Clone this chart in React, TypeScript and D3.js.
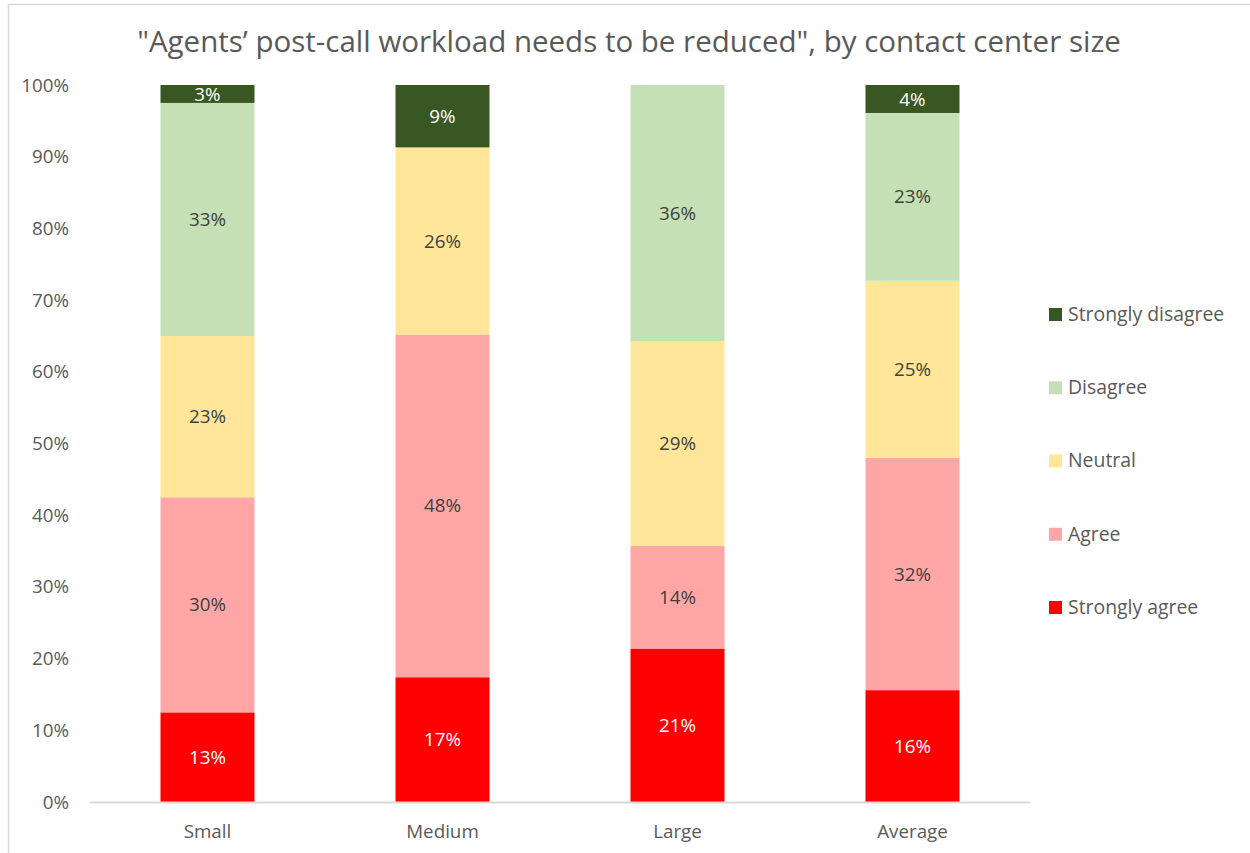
import React from "react";
import * as d3 from "d3";

const categories = ["Small", "Medium", "Large", "Average"];
const seriesNames = ["Strongly agree", "Agree", "Neutral", "Disagree", "Strongly disagree"];
const seriesColors = ["#FF0000", "#FFA7A7", "#FFE699", "#C5E0B4", "#385723"];
const labelColors = ["#FFFFFF", "#404040", "#404040", "#404040", "#FFFFFF"];
const stronglyAgree = [12.5, 17.4, 21.4, 15.6];
const agree = [30.0, 47.8, 14.3, 32.4];
const neutral = [22.5, 26.1, 28.6, 24.7];
const disagree = [32.5, 0, 35.7, 23.4];
const stronglyDisagree = [2.5, 8.7, 0, 3.9];
const yTicks = [0, 10, 20, 30, 40, 50, 60, 70, 80, 90, 100];
const title = "\"Agents\u2019 post-call workload needs to be reduced\", by contact center size";

const W = 1250;
const H = 853;
const FONT = "'Open Sans', Lato, sans-serif";

export default function App() {
  const series = [stronglyAgree, agree, neutral, disagree, stronglyDisagree];
  const rows = categories.map((c, i) => {
    const r: any = { cat: c };
    seriesNames.forEach((s, k) => (r[s] = series[k][i]));
    return r;
  });
  const stacked = d3.stack().keys(seriesNames)(rows);
  const x = d3.scaleBand().domain(categories).range([90, 1030]).paddingInner(0.6).paddingOuter(0.3);
  const y = d3.scaleLinear().domain([0, 100]).range([802, 85]);
  const legendY = d3.scalePoint().domain(seriesNames.slice().reverse()).range([314, 607]);

  return (
    <svg width={W} height={H} style={{ position: "absolute", left: 0, top: 0, fontFamily: FONT }}>
      <rect x={0} y={0} width={W} height={H} fill="#fff" />
      <line x1={8} x2={W} y1={4.5} y2={4.5} stroke="#D9D9D9" strokeWidth={1.5} />
      <line x1={8.5} x2={8.5} y1={4} y2={H} stroke="#D9D9D9" strokeWidth={1.5} />
      <text x={629} y={52} textAnchor="middle" fontSize={29.5} fill="#595959">{title}</text>
      {yTicks.map((t) => (
        <text key={t} x={69} y={y(t)} dy="0.35em" textAnchor="end" fontSize={18.8} fill="#595959">{t}%</text>
      ))}
      {stacked.map((layer, k) => (
        <g key={layer.key}>
          {layer.map((d, i) => {
            const v = d[1] - d[0];
            if (v <= 0) return null;
            const bx = x(categories[i])!;
            return (
              <g key={i}>
                <rect x={bx} y={y(d[1])} width={x.bandwidth()} height={y(d[0]) - y(d[1])} fill={seriesColors[k]} />
                <text x={bx + x.bandwidth() / 2} y={(y(d[0]) + y(d[1])) / 2} dy="0.35em" textAnchor="middle" fontSize={18.8} fill={labelColors[k]}>
                  {Math.round(v)}%
                </text>
              </g>
            );
          })}
        </g>
      ))}
      <line x1={90} x2={1030} y1={802.5} y2={802.5} stroke="#D9D9D9" strokeWidth={2} />
      {categories.map((c) => (
        <text key={c} x={x(c)! + x.bandwidth() / 2} y={831} dy="0.35em" textAnchor="middle" fontSize={18.8} fill="#595959">{c}</text>
      ))}
      {seriesNames.map((s, k) => (
        <g key={s} transform={`translate(1049,${legendY(s)})`}>
          <rect x={0} y={-6} width={13} height={13} fill={seriesColors[k]} />
          <text x={19} y={0} dy="0.35em" fontSize={19.4} fill="#595959">{s}</text>
        </g>
      ))}
    </svg>
  );
}
